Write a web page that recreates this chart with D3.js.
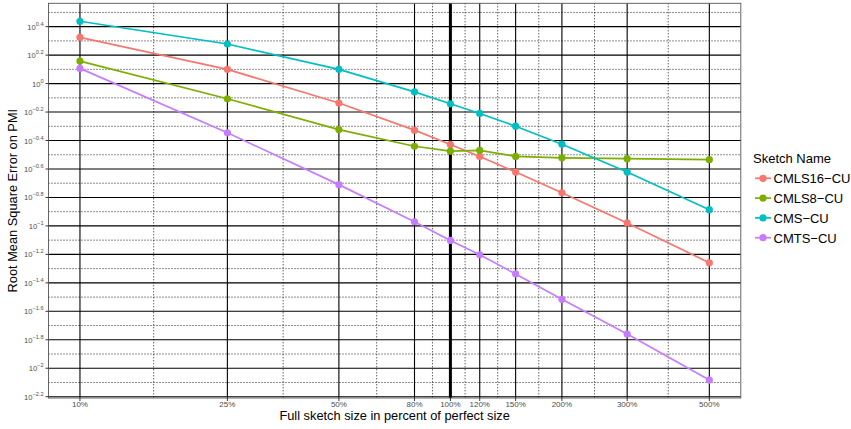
<!DOCTYPE html>
<html><head><meta charset="utf-8">
<script src="https://cdn.jsdelivr.net/npm/d3@7"></script>
<style>
body{margin:0;background:#fff;}
svg{display:block;font-family:"Liberation Sans",Arial,sans-serif;}
</style></head>
<body><svg id="c" width="851" height="429"></svg>
<script>
// ---- data ----
const sizes = [10, 25, 50, 80, 100, 120, 150, 200, 300, 500];
const sizeLabels = ["10%","25%","50%","80%","100%","120%","150%","200%","300%","500%"];
const seriesNames = ["CMLS16\u2212CU","CMLS8\u2212CU","CMS\u2212CU","CMTS\u2212CU"];
const seriesColors = ["#F8766D","#7CAE00","#00BFC4","#C77CFF"];
const cmls16 = [2.113, 1.259, 0.730, 0.471, 0.373, 0.307, 0.239, 0.171, 0.105, 0.0551];
const cmls8  = [1.439, 0.782, 0.475, 0.363, 0.335, 0.339, 0.308, 0.301, 0.297, 0.292];
const cms    = [2.742, 1.897, 1.259, 0.875, 0.721, 0.617, 0.502, 0.375, 0.239, 0.130];
const cmts   = [1.279, 0.451, 0.195, 0.107, 0.0791, 0.0627, 0.0460, 0.0305, 0.0174, 0.00826];
const yTickExponents = [0.4, 0.2, 0, -0.2, -0.4, -0.6, -0.8, -1, -1.2, -1.4, -1.6, -1.8, -2, -2.2];
const yMinorExponents = [0.5, 0.3, 0.1, -0.1, -0.3, -0.5, -0.7, -0.9, -1.1, -1.3, -1.5, -1.7, -1.9, -2.1];
const refLine = 100;
const seriesValues = [cmls16, cmls8, cms, cmts];

// ---- layout ----
const svg = d3.select("#c");
const P = {l: 48.5, r: 740.8, t: 3.3, b: 398};

function expandLog(vals){
  const lo = Math.log10(d3.min(vals)), hi = Math.log10(d3.max(vals));
  const d = (hi - lo) * 0.05;
  return [Math.pow(10, lo - d), Math.pow(10, hi + d)];
}
const x = d3.scaleLog().domain(expandLog(sizes)).range([P.l, P.r]);
const y = d3.scaleLog().domain(expandLog(seriesValues.flat())).range([P.b, P.t]);

const g = svg.append("g");
g.append("rect").attr("x",P.l).attr("y",P.t).attr("width",P.r-P.l).attr("height",P.b-P.t).attr("fill","#fff");

// minor grid y
g.selectAll(".ymin").data(yMinorExponents.filter(e=>{const v=y(Math.pow(10,e));return v>P.t&&v<P.b;}))
 .enter().append("line")
 .attr("x1",P.l).attr("x2",P.r)
 .attr("y1",e=>y(Math.pow(10,e))).attr("y2",e=>y(Math.pow(10,e)))
 .attr("stroke","#000").attr("stroke-width",0.9).attr("stroke-dasharray","1,2");
// minor grid x: log midpoints between major breaks
const xMinor = d3.pairs(sizes).map(([a,b])=>Math.sqrt(a*b));
g.selectAll(".xmin").data(xMinor).enter().append("line")
 .attr("x1",d=>x(d)).attr("x2",d=>x(d)).attr("y1",P.t).attr("y2",P.b)
 .attr("stroke","#000").attr("stroke-width",0.9).attr("stroke-dasharray","1,2");
// major grid y
g.selectAll(".ymaj").data(yTickExponents).enter().append("line")
 .attr("x1",P.l).attr("x2",P.r)
 .attr("y1",e=>y(Math.pow(10,e))).attr("y2",e=>y(Math.pow(10,e)))
 .attr("stroke","#000").attr("stroke-width",1.1);
// major grid x
g.selectAll(".xmaj").data(sizes).enter().append("line")
 .attr("x1",d=>x(d)).attr("x2",d=>x(d)).attr("y1",P.t).attr("y2",P.b)
 .attr("stroke","#000").attr("stroke-width",1.1);

// reference line
g.append("line").attr("x1",x(refLine)).attr("x2",x(refLine)).attr("y1",P.t).attr("y2",P.b)
 .attr("stroke","#000").attr("stroke-width",3);

// series
const line = d3.line().x((d,i)=>x(sizes[i])).y(d=>y(d));
seriesValues.forEach((vals,k)=>{
  g.append("path").datum(vals).attr("d",line).attr("fill","none")
   .attr("stroke",seriesColors[k]).attr("stroke-width",1.7);
  g.selectAll(".pt"+k).data(vals).enter().append("circle")
   .attr("cx",(d,i)=>x(sizes[i])).attr("cy",d=>y(d)).attr("r",3.6)
   .attr("fill",seriesColors[k]);
});

// panel border
g.append("rect").attr("x",P.l).attr("y",P.t).attr("width",P.r-P.l).attr("height",P.b-P.t)
 .attr("fill","none").attr("stroke","#555").attr("stroke-width",0.9);

// axes ticks
const tickCol = "#333";
sizes.forEach((s,i)=>{
  g.append("line").attr("x1",x(s)).attr("x2",x(s)).attr("y1",P.b).attr("y2",P.b+3)
   .attr("stroke",tickCol).attr("stroke-width",1);
  g.append("text").attr("x",x(s)).attr("y",P.b+9).attr("text-anchor","middle")
   .attr("font-size",8).attr("fill","#4d4d4d").text(sizeLabels[i]);
});
yTickExponents.forEach(e=>{
  const yy = y(Math.pow(10,e));
  g.append("line").attr("x1",P.l-3).attr("x2",P.l).attr("y1",yy).attr("y2",yy)
   .attr("stroke",tickCol).attr("stroke-width",1);
  const t = g.append("text").attr("x",P.l-5).attr("y",yy+3).attr("text-anchor","end")
   .attr("font-size",7.6).attr("fill","#4d4d4d");
  t.append("tspan").text("10");
  t.append("tspan").attr("dy",-4).attr("font-size",5.6)
   .text(e===0?"0":(e<0?"\u2212":"")+String(Math.abs(e)));
});

// axis titles
svg.append("text").attr("x",(P.l+P.r)/2).attr("y",420).attr("text-anchor","middle")
 .attr("font-size",12.8).attr("fill","#000").text("Full sketch size in percent of perfect size");
svg.append("text").attr("transform",`translate(17.2,${(P.t+P.b)/2}) rotate(-90)`)
 .attr("text-anchor","middle").attr("font-size",12.8).attr("fill","#000")
 .text("Root Mean Square Error on PMI");

// legend
const L = svg.append("g");
L.append("text").attr("x",753).attr("y",163.3).attr("font-size",13).text("Sketch Name");
seriesNames.forEach((n,k)=>{
  const cy = 178.3 + k*19.8;
  L.append("line").attr("x1",755).attr("x2",771).attr("y1",cy).attr("y2",cy)
   .attr("stroke",seriesColors[k]).attr("stroke-width",1.7);
  L.append("circle").attr("cx",763).attr("cy",cy).attr("r",3.6).attr("fill",seriesColors[k]);
  L.append("text").attr("x",773.5).attr("y",cy+5).attr("font-size",13).text(n);
});
</script></body></html>
